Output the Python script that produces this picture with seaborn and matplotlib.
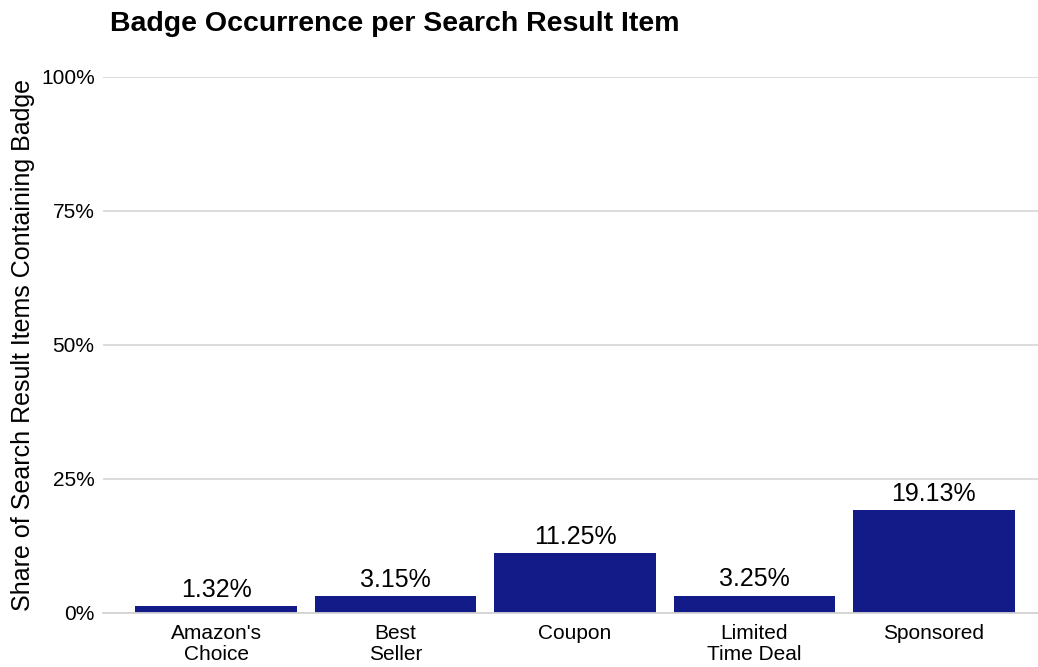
import matplotlib
matplotlib.use("Agg")
import matplotlib.pyplot as plt
import seaborn as sns
import pandas as pd

# Dados do gráfico
badges = ["Amazon's\nChoice", "Best\nSeller", "Coupon", "Limited\nTime Deal", "Sponsored"]
shares = [1.32, 3.15, 11.25, 3.25, 19.13]
y_ticks = [0, 25, 50, 75, 100]
y_tick_labels = ["0%", "25%", "50%", "75%", "100%"]

COR = "#131b88"

sns.set_style("white")
plt.rcParams['font.family'] = ['Liberation Sans', 'DejaVu Sans']
plt.rcParams['text.color'] = 'black'
plt.rcParams['xtick.color'] = 'black'
plt.rcParams['ytick.color'] = 'black'
plt.rcParams['axes.labelcolor'] = 'black'

df = pd.DataFrame({"Badge": badges, "Share": shares})

fig = plt.figure(figsize=(10.38, 6.67), dpi=100)
ax = fig.add_axes([0.0992, 0.081, 0.9008, 0.8036])

sns.barplot(data=df, x="Badge", y="Share", color=COR, width=0.9, saturation=1, linewidth=0, ax=ax)

for barras in ax.containers:
    ax.bar_label(barras, labels=[f"{v:.2f}%" for v in shares], fontsize=18, padding=3, color="black")

ax.set_ylim(0, 100)
ax.set_xlim(-0.63, 4.58)
ax.set_yticks(y_ticks)
ax.set_yticklabels(y_tick_labels, fontsize=15)
ax.tick_params(axis='x', labelsize=15, length=5, color="#d3d3d3", width=1.2, pad=3, labelcolor="black")
ax.tick_params(axis='y', length=0, pad=6, labelcolor="black")
ax.set_xlabel("")
ax.set_ylabel("Share of Search Result Items Containing Badge", fontsize=18, labelpad=4, color="black")
ax.yaxis.grid(True, color="#d9d9d9", linewidth=1.3)
ax.set_axisbelow(True)
for lado in ["top", "right", "left"]:
    ax.spines[lado].set_visible(False)
ax.spines["bottom"].set_color("#d3d3d3")
ax.spines["bottom"].set_linewidth(1.3)
for lbl in ax.get_xticklabels():
    lbl.set_linespacing(1.12)

fig.text(0.106, 0.964, "Badge Occurrence per Search Result Item", fontsize=20.5, fontweight="bold", va="center", ha="left", color="black")

fig.savefig("out.png", dpi=100)
plt.close()
